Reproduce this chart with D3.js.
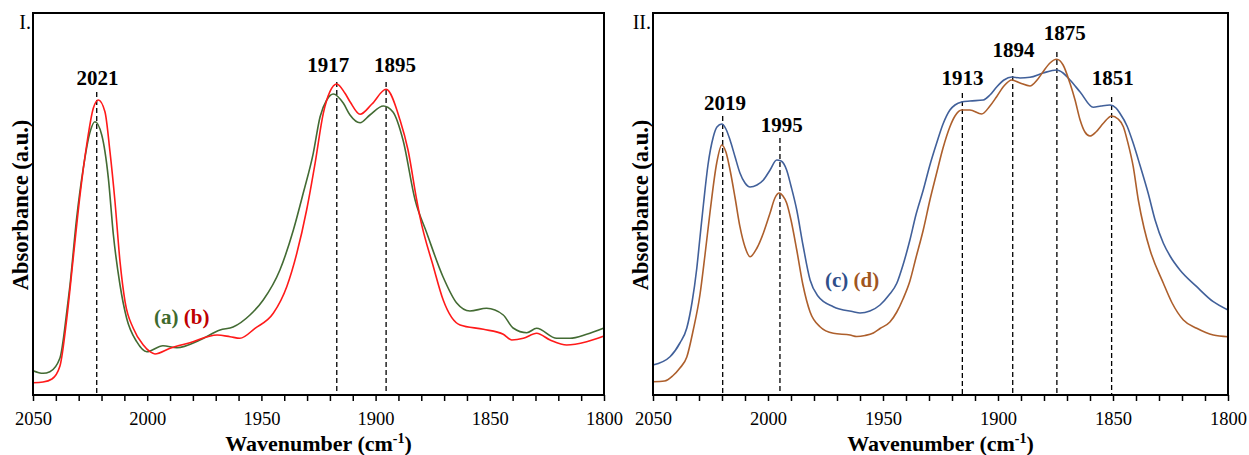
<!DOCTYPE html>
<html>
<head>
<meta charset="utf-8">
<script src="https://cdn.jsdelivr.net/npm/d3@7"></script>
<style>
  html, body { margin: 0; padding: 0; background: #fff; }
  svg { display: block; font-family: "Liberation Serif", "Times New Roman", serif; }
</style>
</head>
<body>
<svg id="chart" width="1249" height="455"></svg>
<script>
// ---------------- DATA ----------------
const xTicks = [2050, 2000, 1950, 1900, 1850, 1800];
const xMinorTicks = d3.range(2050, 1799, -10);

// Panel I
const wnA = [2050, 2045.6, 2042.6, 2038.2, 2035.2, 2033.8, 2030.9, 2028.0, 2025.0, 2022.9, 2019.9, 2017.0, 2014.8, 2011.9, 2009.0, 2004.6, 2000.2, 1993.1, 1987.0, 1976.9, 1968.1, 1962.4, 1955.0, 1949.2, 1941.9, 1936.0, 1931.7, 1927.3, 1924.3, 1921.4, 1918.5, 1914.1, 1911.2, 1906.8, 1902.5, 1896.6, 1892.4, 1888.0, 1882.7, 1877.6, 1870.5, 1864.5, 1858.7, 1851.4, 1844.1, 1839.8, 1833.8, 1829.5, 1820.7, 1814.9, 1807.6, 1800];
const absA = [2.43, 2.17, 2.33, 3.70, 8.33, 11.0, 17.67, 22.67, 26.33, 27.33, 26.0, 21.67, 16.0, 11.0, 7.67, 5.33, 4.33, 4.93, 4.73, 5.5, 6.5, 6.8, 8.0, 9.5, 12.5, 16.5, 20.17, 24.17, 27.83, 29.5, 30.1, 29.17, 28.0, 27.23, 28.0, 28.9, 28.3, 25.5, 19.5, 16.2, 11.83, 9.2, 8.4, 8.67, 8.0, 6.7, 6.23, 6.67, 5.67, 5.67, 6.07, 6.7];

const wnB = [2050, 2045.6, 2041.7, 2038.2, 2035.2, 2032.4, 2029.4, 2026.5, 2023.6, 2021.4, 2018.5, 2016.3, 2014.1, 2011.9, 2009.7, 2006.1, 2001.7, 1998.8, 1996.6, 1990.0, 1981.3, 1969.4, 1963.7, 1959.4, 1952.8, 1944.8, 1938.9, 1934.5, 1930.2, 1926.5, 1922.9, 1920.0, 1917.0, 1913.4, 1911.2, 1906.8, 1901.6, 1895.4, 1889.3, 1885.8, 1882.0, 1880.6, 1874.7, 1870.4, 1863.0, 1852.8, 1844.1, 1840.4, 1835.3, 1829.5, 1823.6, 1816.3, 1807.6, 1800];
const absB = [1.23, 1.3, 1.6, 2.9, 7.67, 13.67, 20.0, 25.0, 28.67, 29.5, 28.33, 24.33, 19.33, 13.33, 9.33, 6.67, 5.0, 4.33, 4.1, 4.67, 5.23, 6.0, 5.83, 5.67, 6.67, 8.17, 10.83, 14.17, 18.5, 23.17, 28.17, 30.33, 31.1, 30.17, 29.33, 28.07, 29.1, 30.57, 27.5, 24.5, 19.5, 17.83, 12.83, 9.5, 7.0, 6.57, 6.07, 5.5, 5.67, 6.17, 5.5, 5.0, 5.33, 5.9];

// Panel II
const wnC = [2050, 2042.6, 2038.3, 2035.3, 2033.0, 2031.0, 2029.6, 2028.1, 2026.1, 2023.8, 2022.2, 2020.1, 2018.3, 2016.5, 2014.3, 2012.2, 2010.0, 2007.8, 2004.8, 2002.0, 1999.1, 1996.2, 1994.3, 1991.9, 1990.0, 1987.5, 1984.8, 1981.7, 1978.3, 1971.6, 1962.9, 1960.0, 1955.7, 1951.3, 1947.4, 1944.0, 1941.3, 1938.3, 1935.7, 1932.5, 1929.6, 1926.7, 1923.9, 1920.9, 1918.7, 1915.8, 1912.2, 1906.4, 1903.5, 1900.6, 1897.4, 1894.0, 1890.4, 1886.1, 1880.4, 1874.5, 1871.7, 1868.7, 1864.3, 1858.6, 1855.2, 1851.3, 1848.7, 1847.0, 1843.9, 1841.2, 1838.3, 1834.7, 1831.7, 1828.1, 1825.2, 1820.9, 1813.6, 1806.4, 1800];
const absC = [3.0, 3.83, 5.2, 6.7, 9.3, 12.6, 15.7, 19.0, 23.0, 25.8, 26.8, 27.1, 26.6, 25.5, 23.8, 22.2, 21.2, 20.8, 21.0, 21.5, 22.5, 23.5, 23.4, 22.5, 20.9, 18.5, 15.0, 11.5, 9.9, 8.83, 8.33, 8.2, 8.4, 9.0, 10.0, 11.17, 13.0, 15.5, 18.0, 20.5, 23.0, 25.17, 27.1, 28.5, 29.0, 29.3, 29.4, 29.5, 30.0, 30.8, 31.5, 31.8, 31.7, 31.77, 32.2, 32.5, 32.2, 31.5, 30.3, 28.77, 28.9, 29.0, 28.7, 28.17, 26.9, 25.17, 23.0, 20.17, 17.5, 15.17, 13.9, 12.5, 10.83, 9.33, 8.5];

const wnD = [2050, 2045.0, 2041.5, 2038.3, 2035.3, 2032.5, 2029.6, 2027.4, 2025.2, 2022.3, 2020.1, 2018.3, 2016.5, 2014.3, 2012.2, 2010.0, 2007.8, 2004.8, 2002.0, 1999.1, 1997.0, 1995.1, 1993.5, 1991.9, 1990.0, 1987.5, 1984.8, 1981.7, 1977.4, 1971.6, 1964.3, 1961.4, 1957.8, 1954.2, 1951.3, 1947.0, 1944.0, 1941.3, 1938.3, 1935.7, 1932.5, 1929.6, 1926.7, 1923.9, 1920.9, 1918.7, 1915.8, 1912.2, 1907.1, 1903.5, 1900.6, 1897.4, 1894.0, 1890.4, 1886.1, 1883.0, 1880.4, 1877.4, 1874.5, 1871.7, 1868.7, 1866.5, 1864.3, 1862.2, 1860.0, 1857.4, 1854.2, 1850.6, 1847.8, 1845.5, 1843.5, 1841.2, 1839.0, 1836.5, 1833.9, 1828.1, 1824.3, 1819.4, 1813.6, 1806.4, 1800];
const absD = [1.33, 1.4, 1.9, 2.7, 3.8, 6.5, 10.0, 14.0, 18.3, 23.2, 25.0, 24.3, 22.5, 19.7, 16.83, 14.8, 13.83, 14.7, 16.2, 18.2, 19.7, 20.2, 19.9, 19.2, 17.5, 14.5, 11.0, 8.3, 6.83, 6.17, 6.0, 5.85, 5.95, 6.2, 6.65, 7.3, 8.3, 9.6, 11.4, 13.7, 16.5, 19.5, 22.17, 24.7, 26.83, 27.9, 28.5, 28.5, 28.1, 28.9, 29.83, 30.9, 31.5, 31.2, 30.9, 31.5, 32.33, 33.2, 33.57, 33.0, 31.17, 29.5, 27.5, 26.3, 25.9, 26.3, 27.17, 27.9, 27.6, 26.83, 25.2, 22.83, 19.5, 16.7, 14.5, 11.17, 9.2, 7.5, 6.67, 6.0, 5.83];

// Peak annotations
const peakLabelsI = ["2021", "1917", "1895"];
const peakLineI = [2022.1, 1917.0, 1895.4];
const peakTopI = [30.3, 31.3, 31.3];
const peakLabelAtI = [2021.8, 1920.7, 1891.5];
const peakLabelLevelI = [31.0, 32.3, 32.3];

const peakLabelsII = ["2019", "1995", "1913", "1894", "1875", "1851"];
const peakLineII = [2019.7, 1994.8, 1915.5, 1893.6, 1874.4, 1850.6];
const peakTopII = [27.9, 25.7, 30.2, 32.7, 34.3, 29.8];
const peakLabelAtII = [2018.7, 1994.0, 1915.4, 1893.3, 1871.0, 1850.1];
const peakLabelLevelII = [28.5, 26.3, 31.0, 33.8, 35.5, 31.0];

const seriesNamesI = ["(a)", "(b)"];
const seriesNamesII = ["(c)", "(d)"];

// ---------------- DRAW ----------------
const svg = d3.select("#chart");
svg.append("rect").attr("width", 1249).attr("height", 455).attr("fill", "#fff");

const yDomain = [0, 38.2];
const plotTop = 13, plotBottom = 395;

function panel(opt) {
  const g = svg.append("g");
  const x = d3.scaleLinear().domain([2050, 1800]).range([opt.left, opt.right]);
  const y = d3.scaleLinear().domain(yDomain).range([plotBottom, plotTop]);

  // dashed peak lines
  opt.peakLine.forEach((p, i) => {
    g.append("line")
      .attr("x1", x(p)).attr("x2", x(p))
      .attr("y1", y(opt.peakTop[i])).attr("y2", plotBottom)
      .attr("stroke", "#000").attr("stroke-width", 1.3)
      .attr("stroke-dasharray", "5,3");
    g.append("text")
      .attr("x", x(opt.peakLabelAt[i])).attr("y", y(opt.peakLabelLevel[i]))
      .attr("text-anchor", "middle")
      .attr("font-weight", "bold").attr("font-size", 21)
      .attr("fill", "#000")
      .text(opt.peakLabels[i]);
  });

  // curves
  const line = d3.line().x(d => x(d[0])).y(d => y(d[1])).curve(d3.curveMonotoneX);
  opt.series.forEach(s => {
    const pts = s.wn.map((w, i) => [w, s.abs[i]]);
    g.append("path").datum(pts)
      .attr("d", line)
      .attr("fill", "none")
      .attr("stroke", s.color)
      .attr("stroke-width", 1.6);
  });

  // x axis
  const ax = d3.axisBottom(x)
    .tickValues(xMinorTicks)
    .tickFormat(d => xTicks.includes(d) ? d : "")
    .tickSizeInner(6).tickSizeOuter(0).tickPadding(11);
  const axG = g.append("g").attr("transform", `translate(0,${plotBottom})`).call(ax);
  axG.select(".domain").remove();
  axG.selectAll(".tick line").attr("stroke", "#000").attr("stroke-width", 1.5);
  axG.selectAll(".tick text")
    .attr("font-family", "\"Liberation Serif\", \"Times New Roman\", serif")
    .attr("font-size", 18.5).attr("fill", "#000");

  // frame
  g.append("rect")
    .attr("x", opt.left).attr("y", plotTop)
    .attr("width", opt.right - opt.left).attr("height", plotBottom - plotTop)
    .attr("fill", "none").attr("stroke", "#000").attr("stroke-width", 2);

  // axis titles
  const xt = g.append("text")
    .attr("x", (opt.left + opt.right) / 2).attr("y", 451)
    .attr("text-anchor", "middle")
    .attr("font-weight", "bold").attr("font-size", 22).attr("fill", "#000");
  xt.append("tspan").text("Wavenumber (cm");
  xt.append("tspan").attr("font-size", 14).attr("dy", -8).text("-1");
  xt.append("tspan").attr("dy", 8).text(")");

  g.append("text")
    .attr("transform", `translate(${opt.left - 12.5},${(plotTop + plotBottom) / 2 + 1}) rotate(-90)`)
    .attr("text-anchor", "middle").attr("dominant-baseline", "central")
    .attr("font-weight", "bold").attr("font-size", 22.5).attr("fill", "#000")
    .text("Absorbance (a.u.)");

  // panel label
  g.append("text")
    .attr("x", opt.left - 2).attr("y", 29)
    .attr("text-anchor", "end")
    .attr("font-size", 20).attr("fill", "#000")
    .text(opt.panelLabel);

  // legend text
  const lg = g.append("text")
    .attr("x", opt.legendX).attr("y", opt.legendY)
    .attr("font-weight", "bold").attr("font-size", 21);
  opt.series.forEach((s, i) => {
    lg.append("tspan").attr("fill", s.textColor)
      .text((i > 0 ? "\u00a0" : "") + s.name);
  });
}

panel({
  left: 33, right: 604, panelLabel: "I.",
  legendX: 154, legendY: 324,
  series: [
    { name: seriesNamesI[0], wn: wnA, abs: absA, color: "#436b33", textColor: "#3f6a2e" },
    { name: seriesNamesI[1], wn: wnB, abs: absB, color: "#ff1a1a", textColor: "#c00000" }
  ],
  peakLabels: peakLabelsI, peakLine: peakLineI, peakTop: peakTopI,
  peakLabelAt: peakLabelAtI, peakLabelLevel: peakLabelLevelI
});

panel({
  left: 653, right: 1228, panelLabel: "II.",
  legendX: 825, legendY: 287,
  series: [
    { name: seriesNamesII[0], wn: wnC, abs: absC, color: "#41609a", textColor: "#2f4f8a" },
    { name: seriesNamesII[1], wn: wnD, abs: absD, color: "#ad5f2c", textColor: "#a0561f" }
  ],
  peakLabels: peakLabelsII, peakLine: peakLineII, peakTop: peakTopII,
  peakLabelAt: peakLabelAtII, peakLabelLevel: peakLabelLevelII
});
</script>
</body>
</html>
